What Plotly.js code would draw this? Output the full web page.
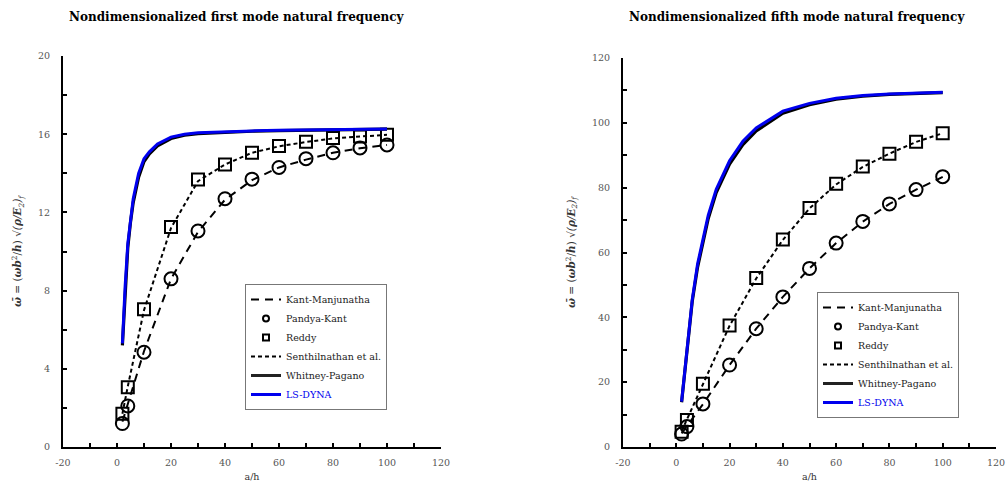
<!DOCTYPE html>
<html>
<head>
<meta charset="utf-8">
<script src="https://cdn.plot.ly/plotly-3.0.1.min.js"></script>
<style>html,body{margin:0;padding:0;background:#fff;}#chart{width:1008px;height:487px;}</style>
</head>
<body>
<div id="chart"></div>
<script>
// ---------- data ----------
const ahPts = [2, 4, 10, 20, 30, 40, 50, 60, 70, 80, 90, 100];
const ahCurve = [2, 2.5, 3, 4, 5, 6, 8, 10, 12, 15, 20, 25, 30, 40, 50, 60, 70, 80, 90, 100];

// first mode
const m1Kant   = [1.3, 2.2, 4.9, 8.6, 11.0, 12.65, 13.65, 14.3, 14.7, 15.05, 15.28, 15.45];
const m1Pandya = [1.2, 2.1, 4.85, 8.6, 11.05, 12.7, 13.7, 14.3, 14.75, 15.05, 15.3, 15.45];
const m1Reddy  = [1.7, 3.05, 7.05, 11.25, 13.68, 14.45, 15.05, 15.4, 15.62, 15.8, 15.88, 15.97];
const m1Senth  = [1.7, 3.1, 7.0, 11.2, 13.6, 14.45, 15.05, 15.38, 15.6, 15.78, 15.88, 15.97];
const m1Whitney = [5.2, 6.6, 8.0, 10.2, 11.5, 12.5, 13.8, 14.6, 15.0, 15.4, 15.78, 15.95, 16.03, 16.11, 16.15, 16.18, 16.21, 16.23, 16.25, 16.26];
const m1LSDyna  = [5.3, 6.8, 8.2, 10.4, 11.7, 12.7, 14.0, 14.75, 15.1, 15.5, 15.85, 16.0, 16.07, 16.13, 16.17, 16.2, 16.22, 16.24, 16.26, 16.27];

// fifth mode
const m5Kant   = [4.2, 6.4, 13.2, 25.3, 36.5, 46.3, 55.1, 62.9, 69.5, 75.0, 79.4, 83.3];
const m5Pandya = [4.0, 6.3, 13.3, 25.3, 36.5, 46.3, 55.1, 62.9, 69.6, 75.0, 79.4, 83.4];
const m5Reddy  = [4.7, 8.3, 19.5, 37.5, 52.1, 64.0, 73.7, 81.2, 86.5, 90.5, 94.2, 96.8];
const m5Senth  = [4.9, 8.5, 19.5, 37.4, 52.0, 63.9, 73.6, 81.0, 86.4, 90.5, 94.1, 96.8];
const m5Whitney = [13.8, 17.8, 22.0, 30.5, 39.0, 45.0, 55.5, 63.5, 70.5, 78.5, 87.3, 93.3, 97.5, 103.0, 105.6, 107.3, 108.2, 108.8, 109.1, 109.3];
const m5LSDyna  = [14.0, 18.0, 22.5, 31.0, 39.5, 45.5, 56.5, 64.5, 71.5, 79.5, 88.3, 94.3, 98.4, 103.6, 106.0, 107.6, 108.4, 108.9, 109.2, 109.4];

const seriesNames = ['Kant-Manjunatha', 'Pandya-Kant', 'Reddy', 'Senthilnathan et al.', 'Whitney-Pagano', 'LS-DYNA'];
const xTickVals = [-20, 0, 20, 40, 60, 80, 100, 120];
const titles = ['Nondimensionalized first mode natural frequency', 'Nondimensionalized fifth mode natural frequency'];

// ---------- styles ----------
const serif = 'DejaVu Serif';
const styles = {
  kant:   {color: 'black', width: 2, dash: '8px,6px'},
  senth:  {color: 'black', width: 2, dash: '4px,3px'},
  whit:   {color: 'black', width: 3.2},
  ls:     {color: '#0000ee', width: 3},
};

function panelTraces(ax, kant, pandya, reddy, senth, whit, ls, legendId) {
  const xa = ax === 1 ? 'x' : 'x2';
  const ya = ax === 1 ? 'y' : 'y2';
  const t = [];
  t.push({x: ahPts, y: pandya, xaxis: xa, yaxis: ya, mode: 'markers', showlegend: false,
    marker: {symbol: 'circle-open', size: 13, color: 'black', line: {width: 2, color: 'black'}}});
  t.push({x: ahPts, y: reddy, xaxis: xa, yaxis: ya, mode: 'markers', showlegend: false,
    marker: {symbol: 'square-open', size: 12, color: 'black', line: {width: 2, color: 'black'}}});
  t.push({x: ahPts, y: kant, xaxis: xa, yaxis: ya, mode: 'lines', showlegend: false, line: styles.kant});
  t.push({x: ahPts, y: senth, xaxis: xa, yaxis: ya, mode: 'lines', showlegend: false, line: styles.senth});
  t.push({x: ahCurve, y: whit, xaxis: xa, yaxis: ya, mode: 'lines', showlegend: false, line: styles.whit});
  t.push({x: ahCurve, y: ls, xaxis: xa, yaxis: ya, mode: 'lines', showlegend: false, line: styles.ls});
  const nul = [null];
  t.push({x: nul, y: nul, xaxis: xa, yaxis: ya, mode: 'lines', name: seriesNames[0], legend: legendId, line: styles.kant});
  t.push({x: nul, y: nul, xaxis: xa, yaxis: ya, mode: 'markers', name: seriesNames[1], legend: legendId,
    marker: {symbol: 'circle-open', size: 6, color: 'black', line: {width: 2, color: 'black'}}});
  t.push({x: nul, y: nul, xaxis: xa, yaxis: ya, mode: 'markers', name: seriesNames[2], legend: legendId,
    marker: {symbol: 'square-open', size: 6, color: 'black', line: {width: 2, color: 'black'}}});
  t.push({x: nul, y: nul, xaxis: xa, yaxis: ya, mode: 'lines', name: seriesNames[3], legend: legendId, line: styles.senth});
  t.push({x: nul, y: nul, xaxis: xa, yaxis: ya, mode: 'lines', name: seriesNames[4], legend: legendId, line: {color: '#222', width: 3}});
  t.push({x: nul, y: nul, xaxis: xa, yaxis: ya, mode: 'lines', name: '<span style="color:#0000ee">' + seriesNames[5] + '</span>', legend: legendId, line: styles.ls});
  return t;
}

const data = [].concat(
  panelTraces(1, m1Kant, m1Pandya, m1Reddy, m1Senth, m1Whitney, m1LSDyna, 'legend'),
  panelTraces(2, m5Kant, m5Pandya, m5Reddy, m5Senth, m5Whitney, m5LSDyna, 'legend2')
);

const yTitle = '<b><i>ω̄</i></b> = (<b><i>ωb</i></b><sup>2</sup>/<b><i>h</i></b>) √<i>(<b>ρ</b>/<b>E</b><sub>2</sub>)<sub>f</sub></i>';

function xAxis(domain, anchor) {
  return {domain: domain, anchor: anchor, range: [-20, 120], tickvals: xTickVals, ticktext: xTickVals.map(String),
    showgrid: false, zeroline: false, showline: true, linecolor: 'black', linewidth: 2,
    ticks: 'inside', ticklen: 4, tickwidth: 2, tickcolor: 'black',
    minor: {dtick: 10, tick0: 0, ticks: 'inside', ticklen: 4, tickwidth: 2, tickcolor: 'black'},
    tickfont: {family: serif, size: 9.5, color: '#555'}, ticklabelstandoff: 6,
    title: {text: 'a/h', font: {family: serif, size: 9.5, color: '#333'}, standoff: 6}, fixedrange: true};
}
function yAxis(domain, anchor, range, dtick, mdtick) {
  return {domain: domain, anchor: anchor, range: range, dtick: dtick, tick0: 0,
    showgrid: false, zeroline: false, showline: true, linecolor: 'black', linewidth: 2,
    ticks: 'inside', ticklen: 4, tickwidth: 2, tickcolor: 'black',
    minor: {dtick: mdtick, tick0: 0, ticks: 'inside', ticklen: 4, tickwidth: 2, tickcolor: 'black'},
    tickfont: {family: serif, size: 9.5, color: '#555'}, ticklabelstandoff: 9,
    title: {text: yTitle, font: {family: serif, size: 10.5, color: '#333'}, standoff: 14}, fixedrange: true};
}

const legendBase = {bgcolor: 'white', bordercolor: '#777', borderwidth: 1, xanchor: 'left', yanchor: 'top',
  font: {family: serif, size: 9.5, color: '#222'}, tracegroupgap: 0, itemclick: false, itemdoubleclick: false,
  entrywidth: 120, entrywidthmode: 'pixels'};

const layout = {
  width: 1008, height: 487, margin: {l: 0, r: 0, t: 0, b: 0},
  paper_bgcolor: 'white', plot_bgcolor: 'white',
  font: {family: serif},
  xaxis: xAxis([63/1008, 441/1008], 'y'),
  yaxis: yAxis([40/487, 431/487], 'x', [0, 20], 4, 2),
  xaxis2: xAxis([623/1008, 996/1008], 'y2'),
  yaxis2: yAxis([40/487, 429/487], 'x2', [0, 120], 20, 10),
  legend: Object.assign({}, legendBase, {x: 245/1008, y: (487-284)/487}),
  legend2: Object.assign({}, legendBase, {x: 817/1008, y: (487-292)/487}),
  annotations: [
    {text: '<b>' + titles[0] + '</b>', xref: 'paper', yref: 'paper', x: 237/1008, y: (487-17)/487, xanchor: 'center', yanchor: 'middle',
     showarrow: false, font: {family: serif, size: 12, color: 'black'}},
    {text: '<b>' + titles[1] + '</b>', xref: 'paper', yref: 'paper', x: 797/1008, y: (487-17)/487, xanchor: 'center', yanchor: 'middle',
     showarrow: false, font: {family: serif, size: 12, color: 'black'}}
  ],
  showlegend: true
};

Plotly.newPlot('chart', data, layout, {displayModeBar: false, staticPlot: true});
</script>
</body>
</html>
